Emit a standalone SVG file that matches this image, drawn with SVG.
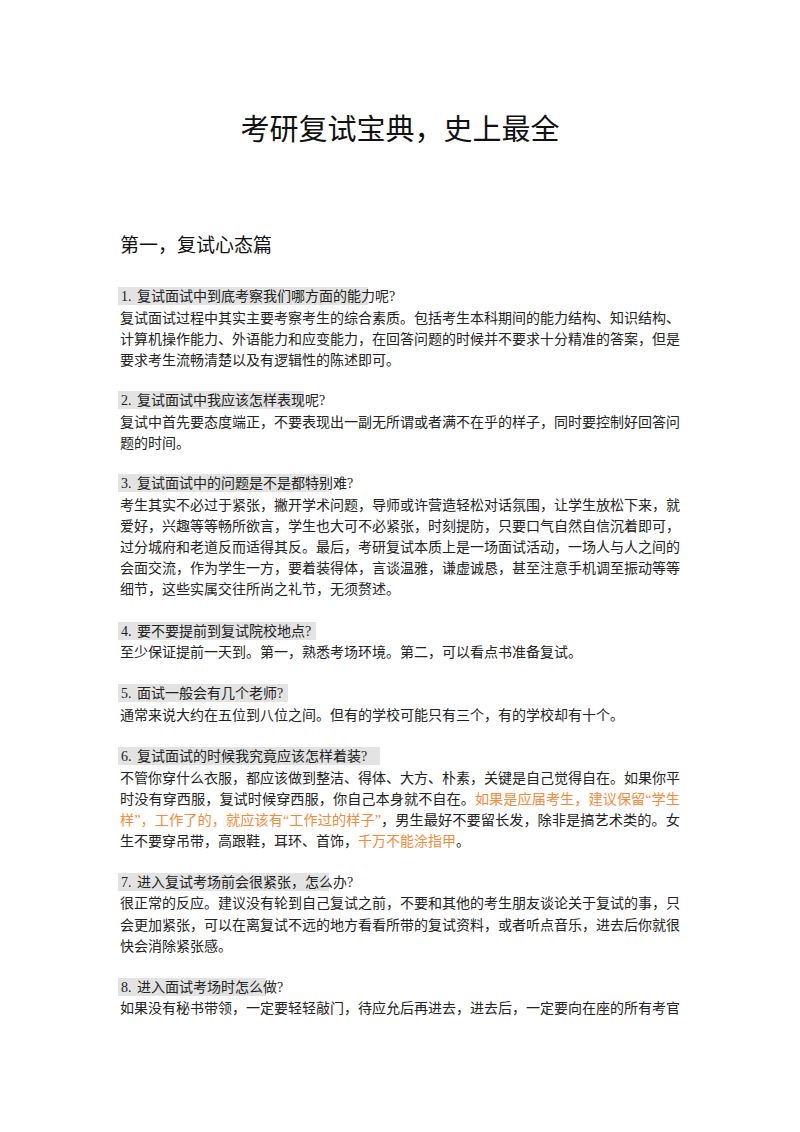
<svg xmlns="http://www.w3.org/2000/svg" width="800" height="1132" viewBox="0 0 800 1132">
<style>
text{font-family:"Liberation Serif","Noto Sans CJK SC",serif;font-size:14px;fill:#222}
.t{font-family:"Noto Sans CJK SC",sans-serif;font-size:29px;fill:#111}
.h{font-family:"Noto Sans CJK SC",sans-serif;font-size:19px;fill:#111}
.o{fill:#f58a3c}
rect.q{fill:#e3e3e3}
</style>
<rect width="800" height="1132" fill="#fff"/>
<text class="t" x="400" y="140" text-anchor="middle">考研复试宝典，史上最全</text>
<text class="h" x="120" y="252">第一，复试心态篇</text>
<g id="q1">
<rect class="q" x="118" y="287" width="250" height="18"/>
<text x="121" y="301">1.<tspan x="137">复试面试中到底考察我们哪方面的能力呢?</tspan></text>
<text x="120" y="323" textLength="560" lengthAdjust="spacingAndGlyphs">复试面试过程中其实主要考察考生的综合素质。包括考生本科期间的能力结构、知识结构、</text>
<text x="120" y="344" textLength="560" lengthAdjust="spacingAndGlyphs">计算机操作能力、外语能力和应变能力，在回答问题的时候并不要求十分精准的答案，但是</text>
<text x="120" y="365">要求考生流畅清楚以及有逻辑性的陈述即可。</text>
</g>
<g id="q2">
<rect class="q" x="118" y="391" width="186" height="18"/>
<text x="121" y="405">2.<tspan x="137">复试面试中我应该怎样表现呢?</tspan></text>
<text x="120" y="427" textLength="560" lengthAdjust="spacingAndGlyphs">复试中首先要态度端正，不要表现出一副无所谓或者满不在乎的样子，同时要控制好回答问</text>
<text x="120" y="448">题的时间。</text>
</g>
<g id="q3">
<rect class="q" x="118" y="474" width="211" height="18"/>
<text x="121" y="488">3.<tspan x="137">复试面试中的问题是不是都特别难?</tspan></text>
<text x="120" y="510" textLength="560" lengthAdjust="spacingAndGlyphs">考生其实不必过于紧张，撇开学术问题，导师或许营造轻松对话氛围，让学生放松下来，就</text>
<text x="120" y="531" textLength="560" lengthAdjust="spacingAndGlyphs">爱好，兴趣等等畅所欲言，学生也大可不必紧张，时刻提防，只要口气自然自信沉着即可，</text>
<text x="120" y="552" textLength="560" lengthAdjust="spacingAndGlyphs">过分城府和老道反而适得其反。最后，考研复试本质上是一场面试活动，一场人与人之间的</text>
<text x="120" y="573" textLength="560" lengthAdjust="spacingAndGlyphs">会面交流，作为学生一方，要着装得体，言谈温雅，谦虚诚恳，甚至注意手机调至振动等等</text>
<text x="120" y="594">细节，这些实属交往所尚之礼节，无须赘述。</text>
</g>
<g id="q4">
<rect class="q" x="118" y="622" width="198" height="18"/>
<text x="121" y="636">4.<tspan x="137">要不要提前到复试院校地点?</tspan></text>
<text x="120" y="657">至少保证提前一天到。第一，熟悉考场环境。第二，可以看点书准备复试。</text>
</g>
<g id="q5">
<rect class="q" x="118" y="684" width="170" height="18"/>
<text x="121" y="698">5.<tspan x="137">面试一般会有几个老师?</tspan></text>
<text x="120" y="720">通常来说大约在五位到八位之间。但有的学校可能只有三个，有的学校却有十个。</text>
</g>
<g id="q6">
<rect class="q" x="118" y="747" width="262" height="18"/>
<text x="121" y="761">6.<tspan x="137">复试面试的时候我究竟应该怎样着装?</tspan></text>
<text x="120" y="783" textLength="560" lengthAdjust="spacingAndGlyphs">不管你穿什么衣服，都应该做到整洁、得体、大方、朴素，关键是自己觉得自在。如果你平</text>
<text x="120" y="804" textLength="560" lengthAdjust="spacingAndGlyphs">时没有穿西服，复试时候穿西服，你自己本身就不自在。<tspan class="o">如果是应届考生，建议保留“学生</tspan></text>
<text x="120" y="825" textLength="560" lengthAdjust="spacingAndGlyphs"><tspan class="o">样”，工作了的，就应该有“工作过的样子”</tspan>，男生最好不要留长发，除非是搞艺术类的。女</text>
<text x="120" y="846">生不要穿吊带，高跟鞋，耳环、首饰，<tspan class="o">千万不能涂指甲</tspan>。</text>
</g>
<g id="q7">
<rect class="q" x="118" y="873" width="211" height="18"/>
<text x="121" y="887">7.<tspan x="137">进入复试考场前会很紧张，怎么办?</tspan></text>
<text x="120" y="908" textLength="560" lengthAdjust="spacingAndGlyphs">很正常的反应。建议没有轮到自己复试之前，不要和其他的考生朋友谈论关于复试的事，只</text>
<text x="120" y="930" textLength="560" lengthAdjust="spacingAndGlyphs">会更加紧张，可以在离复试不远的地方看看所带的复试资料，或者听点音乐，进去后你就很</text>
<text x="120" y="951">快会消除紧张感。</text>
</g>
<g id="q8">
<rect class="q" x="118" y="978" width="148" height="18"/>
<text x="121" y="992">8.<tspan x="137">进入面试考场时怎么做?</tspan></text>
<text x="120" y="1013" textLength="560" lengthAdjust="spacingAndGlyphs">如果没有秘书带领，一定要轻轻敲门，待应允后再进去，进去后，一定要向在座的所有考官</text>
</g>
</svg>
